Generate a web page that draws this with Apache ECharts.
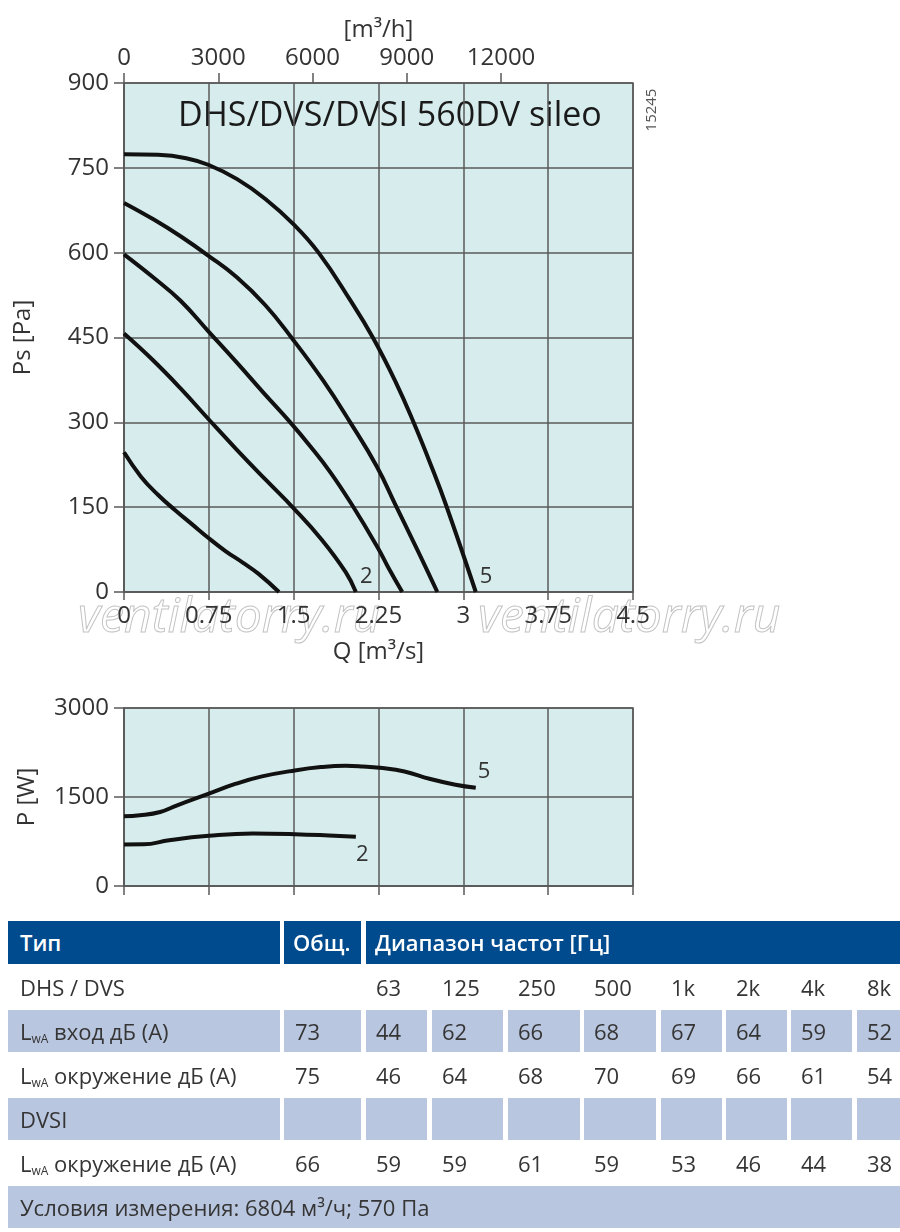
<!DOCTYPE html>
<html><head><meta charset="utf-8">
<script src="https://cdn.jsdelivr.net/npm/echarts@6/dist/echarts.min.js"></script>
<style>
html,body{margin:0;padding:0;background:#fff;}
#chart{position:absolute;left:0;top:0;width:900px;height:1232px;}
.cell{position:absolute;box-sizing:border-box;height:42px;line-height:42px;padding-left:10px;font-family:"Open Sans",sans-serif;font-size:22px;color:#353535;white-space:nowrap;overflow:hidden;}
.hdr{background:#004b8d;color:#fff;font-weight:600;height:43px;line-height:43px;}
.blue{background:#b9c6df;}
.sb{font-size:12px;position:relative;top:3px;}
</style></head><body>
<div id="chart"></div>
<div id="tbl"></div>
<script>
// ---- Pressure curves (Q m3/s, Ps Pa) ----
const q1 = [0, 0.15, 0.3, 0.45, 0.6, 0.75, 0.9, 1.05, 1.19, 1.37];
const ps1 = [247, 204, 172, 145, 120, 95, 72, 52, 32, 0];
const q2 = [0, 0.25, 0.5, 0.75, 1.0, 1.25, 1.5, 1.75, 1.96, 2.05];
const ps2 = [457, 411, 360, 305, 251, 199, 148, 92, 35, 0];
const q3 = [0, 0.26, 0.5, 0.75, 1.0, 1.23, 1.47, 1.65, 1.82, 2.01, 2.245, 2.34, 2.46];
const ps3 = [597, 556, 515, 460, 405, 353, 300, 257, 213, 156, 78, 42, 0];
const q4 = [0, 0.26, 0.5, 0.75, 1.0, 1.25, 1.48, 1.76, 2.0, 2.235, 2.4, 2.6, 2.77];
const ps4 = [688, 659, 629, 594, 556, 507, 450, 374, 300, 222, 154, 72, 0];
const q5 = [0, 0.3, 0.55, 0.75, 1.0, 1.25, 1.5, 1.72, 2.0, 2.2, 2.4, 2.56, 2.72, 2.85, 3.11];
const ps5 = [774, 773, 767, 755, 730, 695, 650, 600, 516, 450, 372, 300, 221, 152, 0];
// ---- Power curves (Q m3/s, P W) ----
const qP2 = [0, 0.175, 0.4, 0.75, 1.14, 1.51, 1.81, 2.05];
const pw2 = [700, 702, 772, 845, 884, 873, 851, 828];
const qP5 = [0, 0.14, 0.32, 0.47, 0.75, 0.99, 1.22, 1.51, 1.74, 1.96, 2.11, 2.26, 2.48, 2.7, 2.93, 3.11];
const pw5 = [1175, 1192, 1248, 1360, 1556, 1724, 1847, 1948, 2004, 2026, 2015, 1993, 1931, 1808, 1707, 1657];
// ---- Axis tick labels ----
const flowTicks = [0, 3000, 6000, 9000, 12000];
// ---- Table data ----
const freqBands = ['63', '125', '250', '500', '1k', '2k', '4k', '8k'];
const inletTotal = 73;
const inletLw = [44, 62, 66, 68, 67, 64, 59, 52];
const surrTotal = 75;
const surrLw = [46, 64, 68, 70, 69, 66, 61, 54];
const dvsiTotal = 66;
const dvsiLw = [59, 59, 61, 59, 53, 46, 44, 38];

const zip = (a, b) => a.map((v, i) => [v, b[i]]);
const AX = '#5a5a5a';
const FONT = '"Open Sans", sans-serif';
const plain = v => String(v);
const lbl = { fontFamily: FONT, fontSize: 24, color: '#333' };
const lineSt = { color: AX, width: 1.5 };
const curve = { color: '#111', width: 4 };

function pSeries(q, p, xi, yi, endLbl) {
  const s = { type: 'line', xAxisIndex: xi, yAxisIndex: yi, data: zip(q, p), showSymbol: false,
    smooth: 0.45, lineStyle: curve, itemStyle: { color: '#111' }, silent: true };
  if (endLbl) s.endLabel = Object.assign({ show: true, fontFamily: FONT, fontSize: 22, color: '#333', distance: 2 }, endLbl);
  return s;
}

const chart = echarts.init(document.getElementById('chart'), null, { renderer: 'canvas' });
chart.setOption({
  animation: false,
  grid: [
    { left: 124, top: 83, width: 509, height: 509, show: true, backgroundColor: '#d7ecec', borderColor: AX, borderWidth: 1.5 },
    { left: 124, top: 708, width: 509, height: 178, show: true, backgroundColor: '#d7ecec', borderColor: AX, borderWidth: 1.5 }
  ],
  xAxis: [
    { gridIndex: 0, type: 'value', min: 0, max: 4.5, interval: 0.75, position: 'bottom',
      axisLine: { show: true, onZero: false, lineStyle: lineSt },
      axisTick: { show: true, length: 8, lineStyle: lineSt },
      axisLabel: Object.assign({ margin: 12, formatter: plain }, lbl),
      splitLine: { show: true, lineStyle: lineSt },
      name: 'Q [m³/s]', nameLocation: 'middle', nameGap: 48, nameTextStyle: lbl },
    { gridIndex: 0, type: 'value', min: 0, max: 16200, position: 'top',
      axisLine: { show: false, onZero: false },
      axisTick: { show: true, length: 10, customValues: flowTicks, lineStyle: lineSt },
      axisLabel: Object.assign({ margin: 13, customValues: flowTicks, formatter: plain }, lbl),
      splitLine: { show: false },
      name: '[m³/h]', nameLocation: 'middle', nameGap: 41, nameTextStyle: lbl },
    { gridIndex: 1, type: 'value', min: 0, max: 4.5, interval: 0.75,
      axisLine: { show: true, onZero: false, lineStyle: lineSt },
      axisTick: { show: true, length: 9, lineStyle: lineSt },
      axisLabel: { show: false },
      splitLine: { show: true, lineStyle: lineSt } }
  ],
  yAxis: [
    { gridIndex: 0, type: 'value', min: 0, max: 900, interval: 150,
      axisLine: { show: true, onZero: false, lineStyle: lineSt },
      axisTick: { show: true, length: 10, lineStyle: lineSt },
      axisLabel: Object.assign({ margin: 15, formatter: plain }, lbl),
      splitLine: { show: true, lineStyle: lineSt },
      name: 'Ps [Pa]', nameLocation: 'middle', nameGap: 89, nameTextStyle: lbl },
    { gridIndex: 1, type: 'value', min: 0, max: 3000, interval: 1500,
      axisLine: { show: true, onZero: false, lineStyle: lineSt },
      axisTick: { show: true, length: 10, lineStyle: lineSt },
      axisLabel: Object.assign({ margin: 15, formatter: plain }, lbl),
      splitLine: { show: true, lineStyle: lineSt },
      name: 'P [W]', nameLocation: 'middle', nameGap: 85, nameTextStyle: lbl }
  ],
  series: [
    pSeries(q1, ps1, 0, 0),
    pSeries(q2, ps2, 0, 0, { formatter: '2', offset: [2, -15] }),
    pSeries(q3, ps3, 0, 0),
    pSeries(q4, ps4, 0, 0),
    pSeries(q5, ps5, 0, 0, { formatter: '5', offset: [2, -15] }),
    pSeries(qP2, pw2, 2, 1, { formatter: '2', offset: [-2, 18] }),
    pSeries(qP5, pw5, 2, 1, { formatter: '5', offset: [0, -16] })
  ],
  graphic: [
    { type: 'text', left: 178, top: 99, silent: true,
      style: { text: 'DHS/DVS/DVSI 560DV sileo', font: '500 34px "Open Sans"', fill: '#1a1a1a' } },
    { type: 'text', x: 652, y: 110, rotation: Math.PI / 2, silent: true,
      style: { text: '15245', font: '15px "Open Sans"', fill: '#555', align: 'center', verticalAlign: 'middle' } },
    { type: 'text', x: 78, y: 618, silent: true, z: -1,
      style: { text: 'ventilatorry.ru', font: 'italic 48px "Open Sans"', fill: 'rgba(255,255,255,0)', stroke: '#c4c4c4', lineWidth: 1, verticalAlign: 'middle' } },
    { type: 'text', x: 478, y: 618, silent: true, z: -1,
      style: { text: 'ventilatorry.ru', font: 'italic 48px "Open Sans"', fill: 'rgba(255,255,255,0)', stroke: '#c4c4c4', lineWidth: 1, verticalAlign: 'middle' } }
  ]
});

// ---- Table ----
const tbl = document.getElementById('tbl');
const cols = [[8, 272], [284, 77], [366, 61], [432, 71], [508, 72], [584, 72], [661, 61], [726, 61], [791, 61], [857, 70]];
function cell(x, w, y, cls, html, pad) {
  const d = document.createElement('div');
  d.className = 'cell ' + (cls || '');
  d.style.left = x + 'px'; d.style.top = y + 'px'; d.style.width = w + 'px';
  if (pad !== undefined) d.style.paddingLeft = pad + 'px';
  d.innerHTML = html;
  tbl.appendChild(d);
}
function row(y, cls, first, total, vals) {
  cell(cols[0][0], cols[0][1], y, cls, first, 12);
  cell(cols[1][0], cols[1][1], y, cls, total === null ? '' : String(total), 11);
  vals.forEach((v, i) => cell(cols[i + 2][0], cols[i + 2][1], y, cls, v === null ? '' : String(v)));
}
const LWA = 'L<span class="sb">wA</span> ';
cell(8, 272, 921, 'hdr', 'Тип', 12);
cell(284, 77, 921, 'hdr', 'Общ.', 9);
cell(366, 600, 921, 'hdr', 'Диапазон частот [Гц]', 9);
row(966, '', 'DHS / DVS', null, freqBands);
row(1010, 'blue', LWA + 'вход дБ (A)', inletTotal, inletLw);
row(1054, '', LWA + 'окружение дБ (A)', surrTotal, surrLw);
row(1098, 'blue', 'DVSI', null, freqBands.map(() => null));
row(1142, '', LWA + 'окружение дБ (A)', dvsiTotal, dvsiLw);
cell(8, 900, 1186, 'blue', 'Условия измерения: 6804 м³/ч; 570 Па', 12);
</script>
</body></html>
